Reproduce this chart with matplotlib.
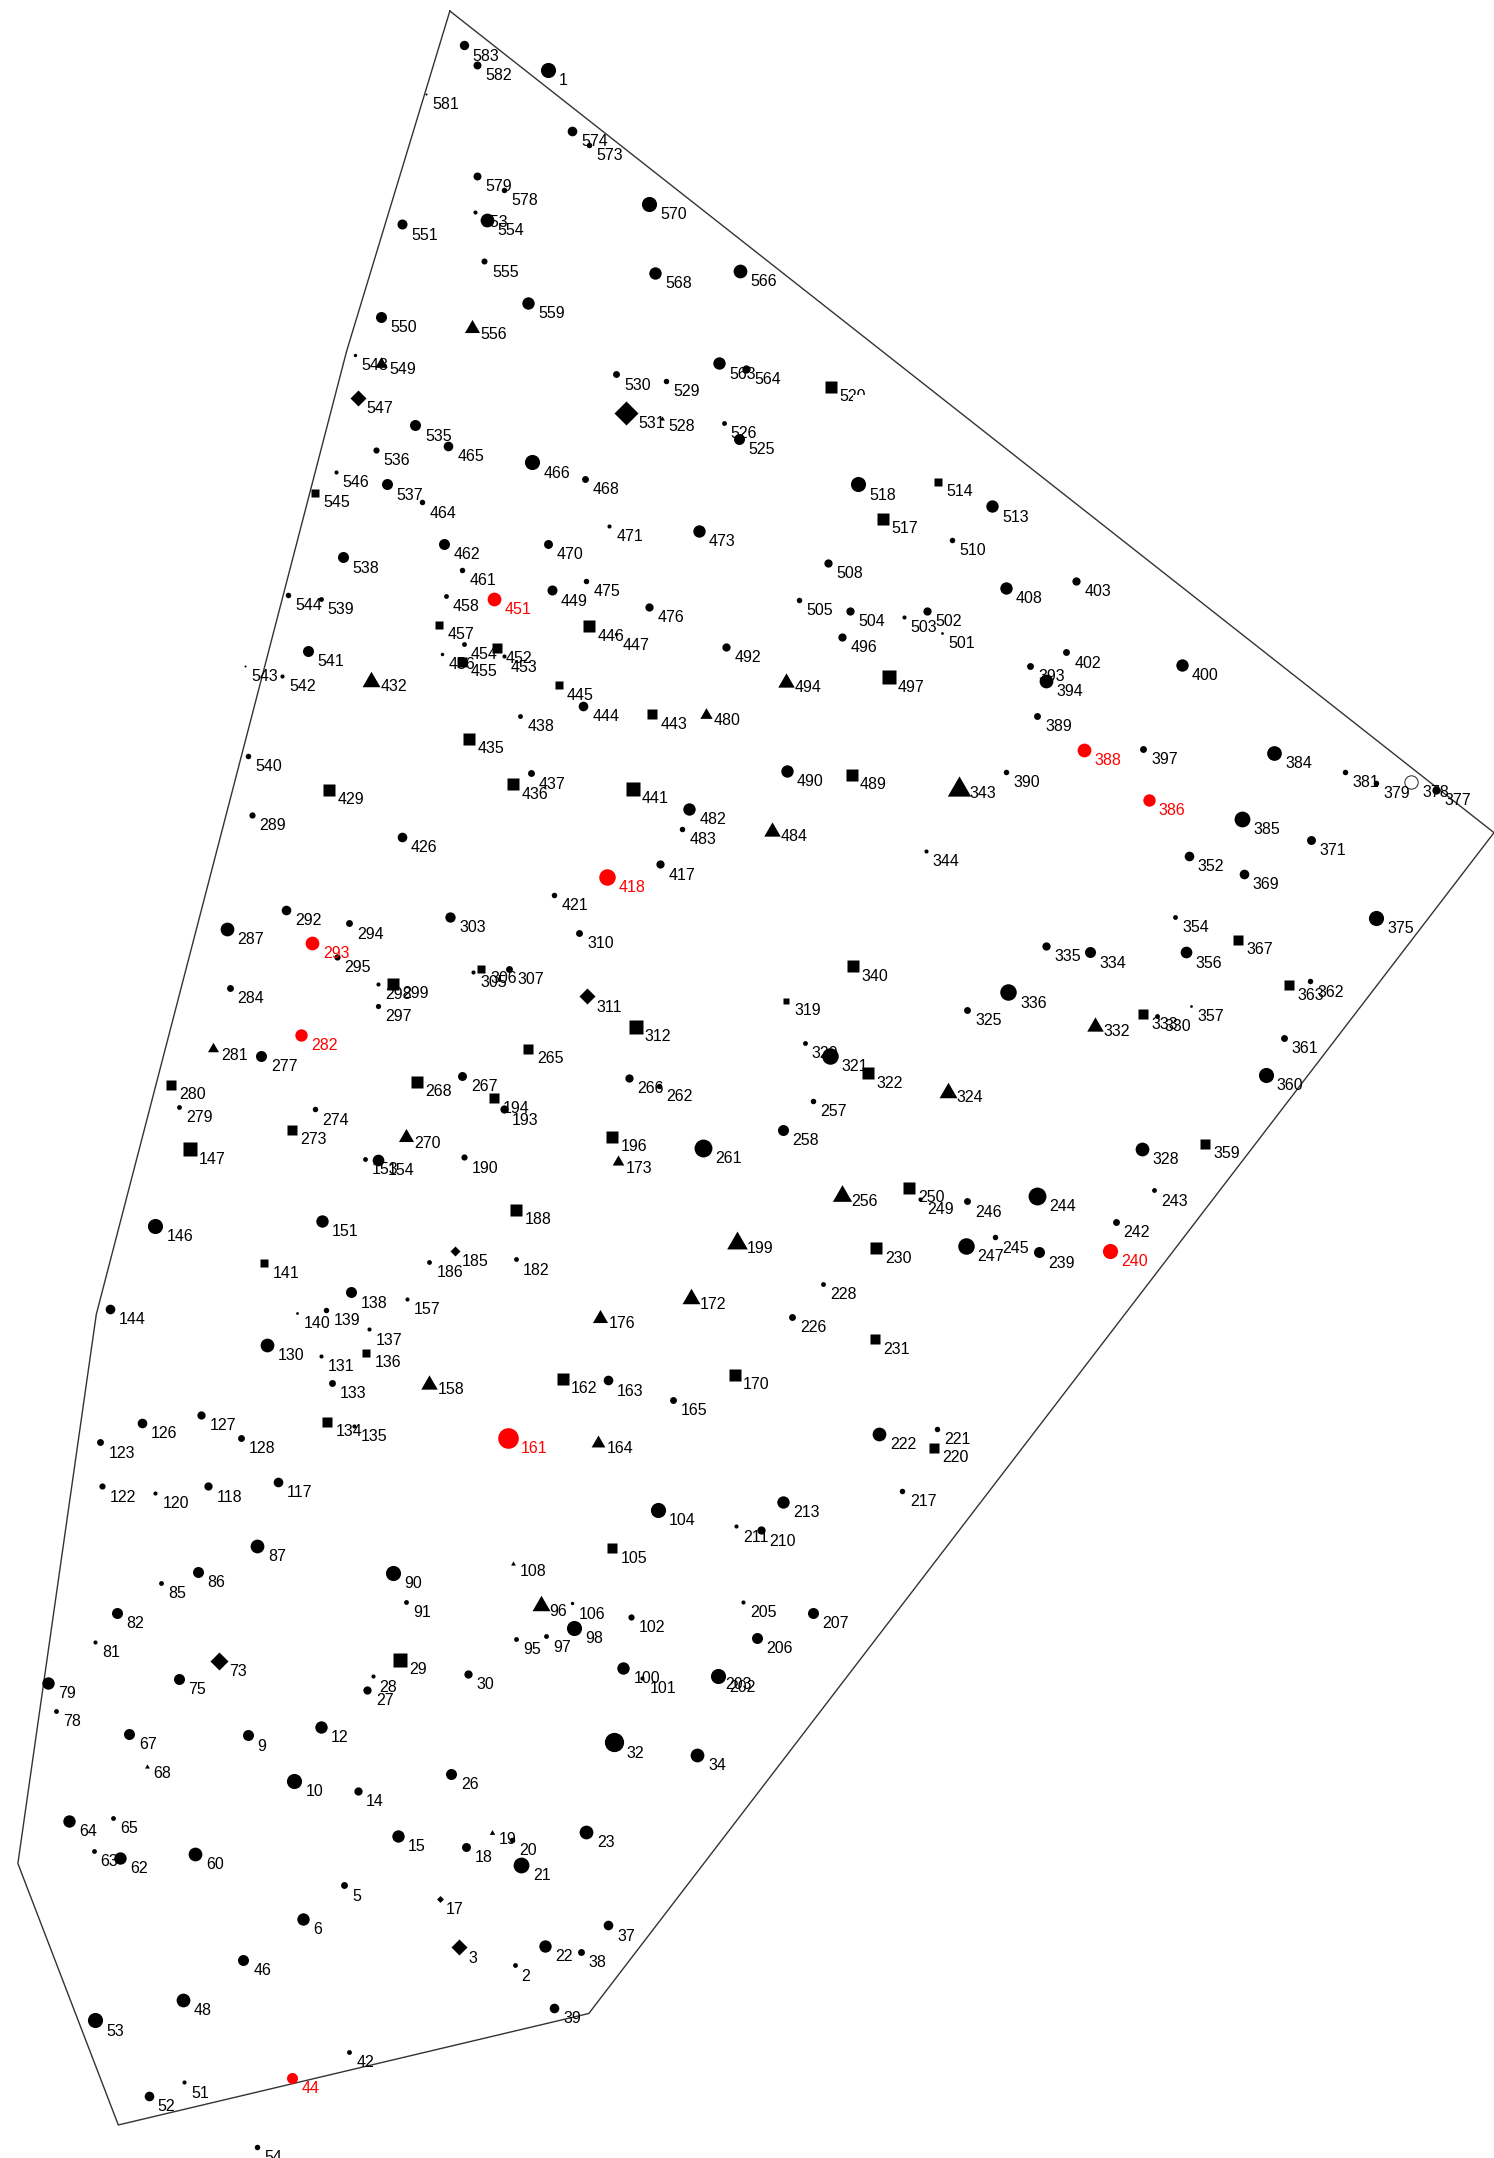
import matplotlib
matplotlib.use("Agg")
import matplotlib.pyplot as plt
from matplotlib.patches import Rectangle

plt.rcParams['font.family'] = ['Liberation Sans', 'DejaVu Sans']

# Survey boundary
boundary_x = [327, 1086, 428, 86, 13, 70, 252, 327]
boundary_y = [8, 605, 1463, 1544, 1354, 955, 255, 8]

# Circles: id, easting, southing, size
circle_ids = [1, 2, 5, 6, 9, 10, 12, 14, 15, 18,
              20, 21, 22, 23, 26, 27, 28, 30, 32, 34,
              37, 38, 39, 42, 44, 46, 48, 51, 52, 53,
              54, 60, 62, 63, 64, 65, 67, 75, 78, 79,
              81, 82, 85, 86, 87, 90, 91, 95, 97, 98,
              100, 101, 102, 104, 106, 117, 118, 120, 122, 123,
              126, 127, 128, 130, 131, 133, 135, 137, 138, 139,
              140, 144, 146, 151, 153, 154, 157, 161, 163, 165,
              182, 186, 190, 193, 202, 203, 205, 206, 207, 210,
              211, 213, 217, 221, 222, 226, 228, 239, 240, 242,
              243, 244, 245, 246, 247, 249, 257, 258, 261, 262,
              266, 267, 274, 277, 279, 282, 284, 287, 289, 292,
              293, 294, 295, 297, 298, 303, 305, 307, 310, 320,
              321, 325, 328, 330, 334, 335, 336, 344, 352, 354,
              356, 357, 360, 361, 362, 369, 371, 375, 377, 378,
              379, 381, 384, 385, 386, 388, 389, 390, 393, 394,
              397, 400, 402, 403, 408, 417, 418, 421, 426, 437,
              438, 444, 447, 449, 451, 453, 454, 456, 458, 461,
              462, 464, 465, 466, 468, 470, 471, 473, 475, 476,
              482, 483, 490, 492, 496, 501, 502, 503, 504, 505,
              508, 510, 513, 518, 525, 526, 529, 530, 535, 536,
              537, 538, 539, 540, 541, 542, 543, 544, 546, 548,
              550, 551, 553, 554, 555, 559, 563, 564, 566, 568,
              570, 573, 574, 578, 579, 581, 582, 583]
circle_x = [398, 374, 250, 220, 180, 214, 233, 260, 289, 339,
            372, 379, 396, 426, 328, 267, 271, 340, 446, 507,
            442, 422, 403, 254, 212, 177, 133, 134, 108, 69,
            187, 142, 87, 68, 50, 82, 94, 130, 41, 35,
            69, 85, 117, 144, 187, 286, 295, 375, 397, 417,
            453, 467, 459, 478, 416, 202, 151, 113, 74, 73,
            103, 146, 175, 194, 233, 241, 257, 268, 255, 237,
            216, 80, 113, 234, 265, 275, 296, 369, 442, 489,
            375, 312, 337, 366, 522, 522, 540, 550, 591, 553,
            535, 569, 656, 681, 639, 576, 598, 755, 807, 811,
            839, 754, 723, 703, 702, 669, 591, 569, 511, 479,
            457, 336, 229, 190, 130, 219, 167, 165, 183, 208,
            227, 254, 245, 275, 275, 327, 344, 370, 421, 585,
            603, 703, 830, 841, 792, 760, 733, 673, 864, 854,
            862, 866, 920, 933, 952, 904, 953, 1000, 1044, 1026,
            1000, 978, 926, 903, 835, 788, 754, 731, 749, 760,
            831, 859, 775, 782, 731, 480, 441, 403, 292, 386,
            378, 424, 448, 401, 359, 366, 337, 321, 324, 336,
            323, 307, 326, 387, 425, 398, 443, 508, 426, 472,
            501, 496, 572, 528, 612, 685, 674, 657, 618, 581,
            602, 692, 721, 624, 537, 526, 484, 448, 302, 273,
            281, 249, 233, 180, 224, 205, 178, 209, 244, 258,
            277, 292, 345, 354, 352, 384, 523, 542, 538, 476,
            472, 428, 416, 366, 347, 310, 347, 337]
circle_y = [51, 1428, 1370, 1394, 1261, 1294, 1255, 1301, 1334, 1342,
            1337, 1355, 1414, 1331, 1289, 1228, 1218, 1216, 1266, 1275,
            1399, 1418, 1459, 1491, 1510, 1424, 1453, 1513, 1523, 1468,
            1560, 1347, 1350, 1345, 1323, 1321, 1260, 1220, 1243, 1223,
            1193, 1172, 1150, 1142, 1123, 1143, 1164, 1191, 1189, 1183,
            1212, 1219, 1175, 1097, 1165, 1077, 1080, 1085, 1080, 1048,
            1034, 1028, 1045, 977, 985, 1005, 1036, 966, 939, 952,
            954, 951, 891, 887, 842, 843, 944, 1045, 1003, 1017,
            915, 917, 841, 806, 1218, 1216, 1164, 1190, 1172, 1112,
            1109, 1091, 1083, 1038, 1042, 957, 933, 910, 909, 888,
            865, 869, 899, 873, 905, 871, 800, 821, 834, 789,
            783, 782, 806, 767, 804, 752, 718, 675, 592, 661,
            685, 671, 695, 731, 715, 666, 706, 704, 678, 758,
            767, 734, 835, 738, 692, 687, 721, 618, 622, 666,
            692, 731, 781, 754, 713, 635, 610, 667, 574, 568,
            569, 561, 547, 595, 581, 545, 520, 561, 484, 495,
            544, 483, 474, 422, 427, 628, 637, 650, 608, 562,
            520, 513, 461, 429, 435, 477, 468, 475, 433, 414,
            395, 365, 324, 336, 348, 395, 382, 386, 422, 441,
            588, 602, 560, 470, 463, 460, 444, 448, 444, 436,
            409, 392, 368, 352, 319, 307, 277, 272, 309, 327,
            352, 405, 435, 549, 473, 491, 484, 432, 343, 258,
            230, 163, 154, 160, 190, 220, 264, 268, 197, 198,
            148, 105, 95, 138, 128, 68, 47, 33]
circle_d = [11, 3.5, 5, 9, 8, 11, 9, 6, 9, 6.5,
            4, 11.5, 9, 10, 8, 6, 3, 6, 14, 10,
            7, 5, 7, 3.5, 8, 8, 10, 3, 7, 11,
            4, 10, 9, 3.5, 9, 3.5, 8, 8, 3.5, 9,
            3, 8, 3.5, 8, 10, 11, 3.5, 3.5, 3.5, 11,
            9, 3, 4.5, 11, 2.5, 7, 6, 3, 4.5, 5,
            7, 6, 5, 10, 3, 5, 3, 3, 8, 4,
            2, 7, 11, 9, 3.5, 8.5, 3, 15, 7, 5,
            3.5, 3.5, 4.5, 6, 11, 3, 3, 8, 8, 6,
            3, 9, 4, 4, 10, 5, 3.5, 8, 11, 5,
            3.5, 13, 4, 5, 12, 3, 4, 8, 13, 4,
            6, 6.5, 4, 8, 3.5, 9, 5, 10, 4.5, 7,
            10, 5, 4.5, 3.8, 3, 7.5, 3, 5, 5, 3.5,
            12, 5, 10, 3.5, 8, 6, 12, 3, 7, 3.5,
            8.5, 2, 11, 5, 4, 7, 6.5, 11, 6, 9.7,
            4, 4, 10.7, 11.5, 9, 10, 5, 4, 5, 10,
            5, 9, 5, 6, 9, 6, 12, 4, 7, 5,
            3.5, 7, 2.5, 7.3, 10, 3, 3.5, 2.5, 3.5, 4,
            8, 4, 7, 11, 5, 6.5, 3, 9, 4, 6,
            9, 4, 9, 6, 6, 2, 6, 3, 6, 4,
            6, 4, 9, 11, 8, 3.5, 4, 5, 8, 4.5,
            8, 8, 3.5, 4, 8, 3, 1.5, 4, 3, 2.5,
            8, 7.3, 3, 10, 4.4, 9, 9, 6, 10, 9,
            11, 4, 7, 4, 5.8, 1.5, 5.8, 6.8]

# Squares
square_ids = [29, 105, 134, 136, 141, 147, 162, 170, 188, 194,
              196, 220, 230, 231, 250, 265, 268, 273, 280, 299,
              306, 312, 319, 322, 333, 340, 359, 363, 367, 429,
              435, 436, 441, 443, 445, 446, 452, 455, 457, 489,
              497, 514, 517, 520, 545]
square_x = [291, 445, 238, 266, 192, 138, 409, 534, 375, 359,
            445, 679, 637, 636, 661, 384, 303, 212, 124, 286,
            350, 462, 571, 631, 831, 620, 876, 937, 900, 239,
            341, 373, 460, 474, 406, 428, 361, 336, 319, 619,
            646, 682, 642, 604, 229]
square_y = [1206, 1125, 1033, 983, 918, 835, 1002, 999, 879, 798,
            826, 1052, 907, 973, 863, 762, 786, 821, 788, 715,
            704, 746, 727, 780, 737, 702, 831, 716, 683, 574,
            537, 570, 573, 519, 498, 455, 471, 481, 454, 563,
            492, 350, 377, 281, 358]
square_d = [10, 7, 7, 6, 6, 10, 8, 9, 8, 7,
            8, 7, 8, 7, 8, 7, 8, 7, 7, 8,
            6, 10, 5, 8, 7, 8, 7, 7, 7, 9,
            8, 8, 10, 7, 6, 9, 7.5, 7.5, 6, 8,
            10, 6, 8, 8, 6]

# Triangles
triangle_ids = [19, 68, 96, 108, 158, 164, 172, 173, 176, 199,
                256, 270, 281, 324, 332, 343, 432, 480, 484, 494,
                528, 549, 556]
triangle_x = [358, 107, 393, 373, 312, 435, 502, 449, 436, 536,
              612, 295, 155, 689, 796, 697, 270, 513, 561, 571,
              481, 277, 343]
triangle_y = [1331, 1283, 1165, 1136, 1004, 1047, 942, 843, 956, 901,
              867, 825, 761, 792, 744, 571, 493, 518, 602, 494,
              304, 263, 237]
triangle_d = [4, 3.5, 13, 3.5, 12, 10, 13, 8.5, 11, 15,
              14, 11, 8, 13, 12, 17, 13, 9, 12, 12,
              3.5, 9, 11]

# Diamonds
diamond_ids = [3, 17, 73, 185, 311, 531, 547]
diamond_x = [334, 320, 159, 331, 427, 455, 260]
diamond_y = [1415, 1380, 1207, 909, 724, 300, 289]
diamond_d = [11, 5, 13, 7, 12, 17, 11]

red_ids = [44, 161, 240, 282, 293, 386, 388, 418, 451]
open_ids = [378]

PX = 1494 / 1086            # image px per survey unit
PT = PX * 72 / 100          # points per survey unit
TRIANGLE = [(-1, -0.866), (1, -0.866), (0, 0.866), (-1, -0.866)]

fig = plt.figure(figsize=(14.94, 21.58), dpi=100)
ax = fig.add_axes([0, 0, 1, 1])
ax.set_xlim(0, 1086)
ax.set_ylim(1568, 0)
ax.axis('off')

ax.plot(boundary_x, boundary_y, color='#333333', lw=1.0, zorder=1)


def draw(ids, xs, ys, ds, marker, scale, dx_fn, dy):
    for i, x, y, d in zip(ids, xs, ys, ds):
        col = 'red' if i in red_ids else 'black'
        if i in open_ids:
            ax.plot(x, y, marker=marker, ms=d * PT * scale, mfc='white', mec='#222222',
                    mew=0.7, ls='none', zorder=2)
        else:
            ax.plot(x, y, marker=marker, ms=d * PT * scale, mfc=col, mec='none',
                    ls='none', zorder=2)
        ax.text(x + dx_fn(d), y + dy, str(i), color=col, fontsize=11.5,
                ha='left', va='center', zorder=3)


draw(circle_ids, circle_x, circle_y, circle_d, 'o', 1, lambda d: 0.4 * d + 3.8, 7.8)
draw(square_ids, square_x, square_y, square_d, 's', 1, lambda d: 6.2, 7.2)
draw(triangle_ids, triangle_x, triangle_y, triangle_d, TRIANGLE, 1, lambda d: 0.2 * d + 4, 5.8)
draw(diamond_ids, diamond_x, diamond_y, diamond_d, 'D', 1 / 1.414, lambda d: 0.4 * d + 2, 7.8)

# the label of point 520 is partly erased in the source map
k = square_ids.index(520)
ax.add_patch(Rectangle((square_x[k] + 16, square_y[k] + 6), 12, 9, fc='white', ec='none', zorder=4))

fig.savefig('out.png', dpi=100, facecolor='white')
